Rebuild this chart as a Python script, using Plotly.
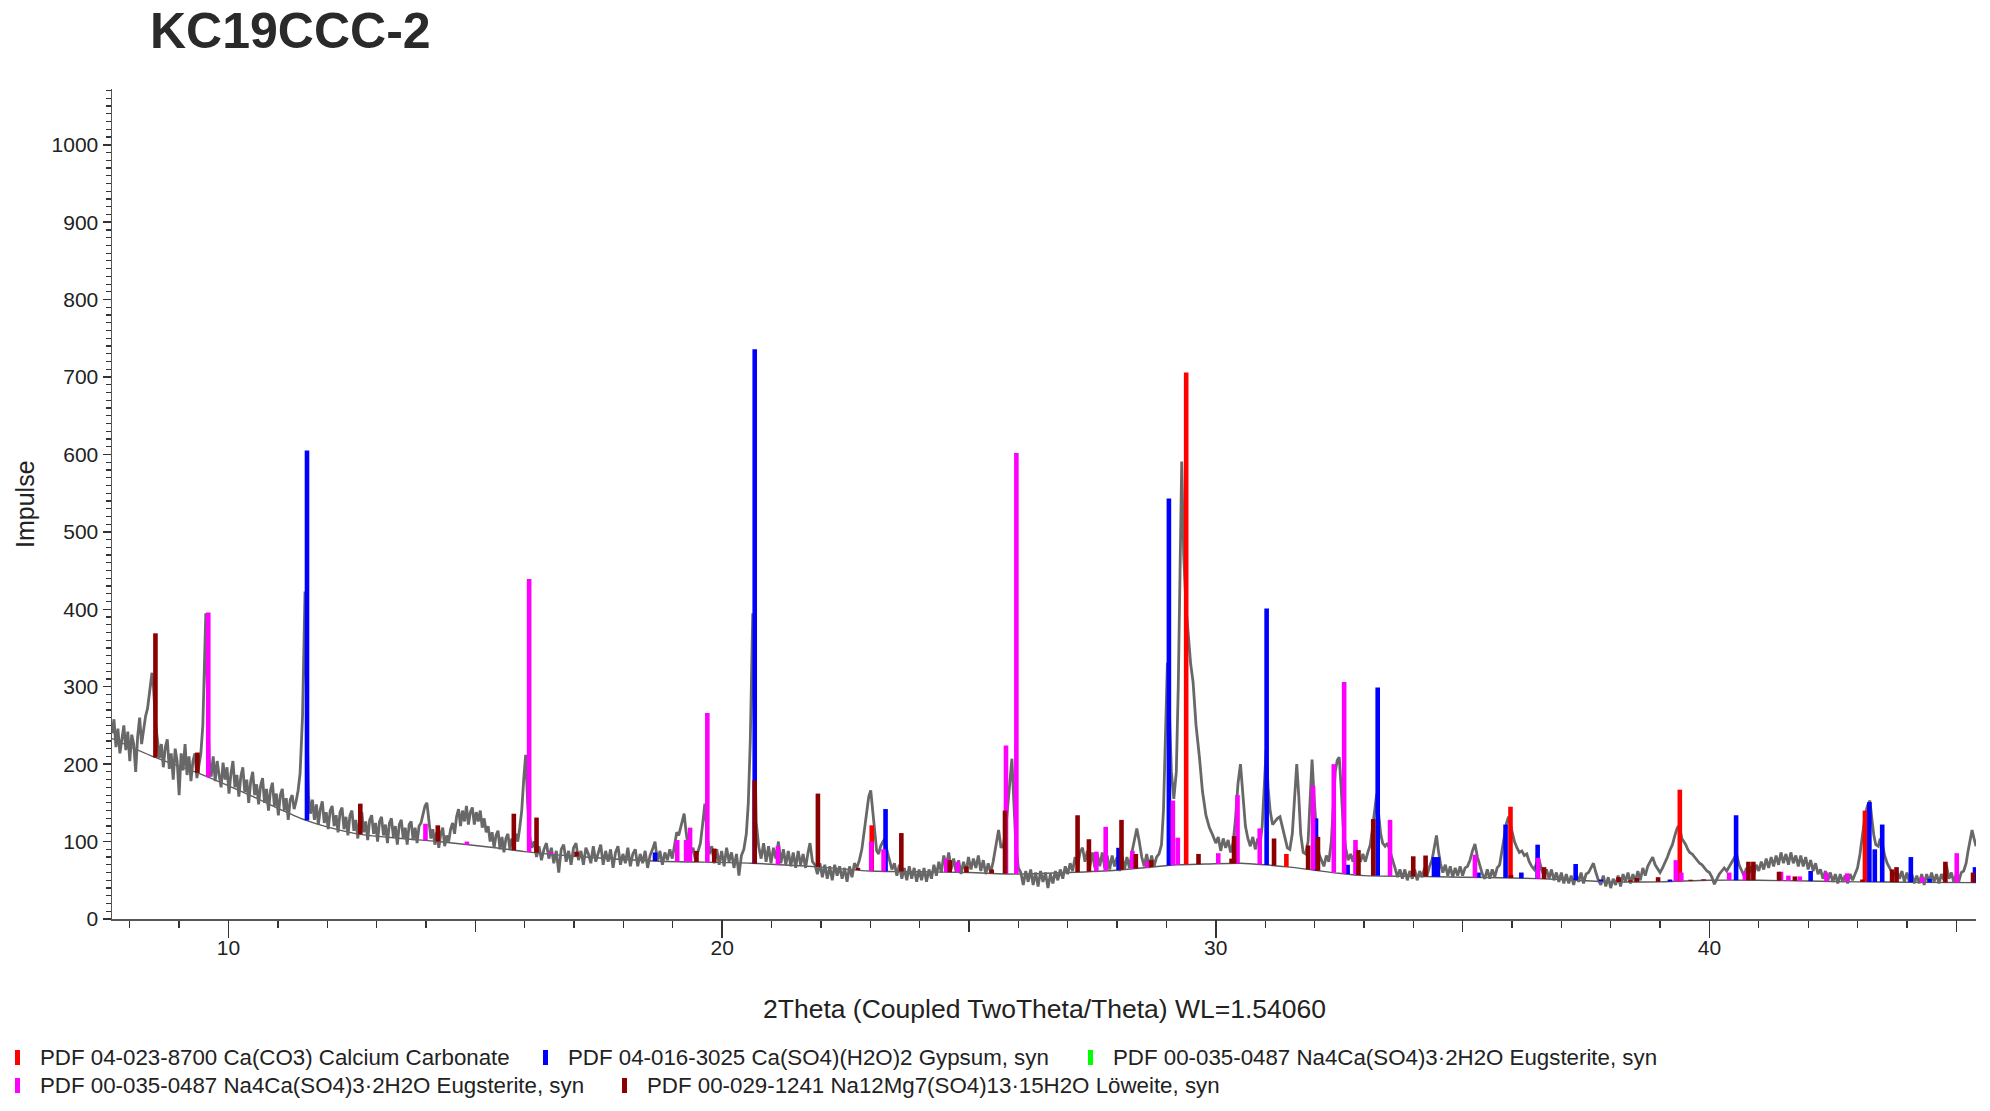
import numpy as np
import plotly.graph_objects as go

# ---------------- data ----------------
# measured scan (2theta, counts)
scan_pts = [
(7.64,240),(7.68,258),(7.72,222),(7.76,246),(7.80,214),(7.84,236),(7.88,250),(7.92,218),(7.96,242),(8.00,204),(8.04,238),(8.08,226),(8.12,190),(8.16,236),(8.20,260),(8.24,226),(8.28,248),(8.32,262),(8.36,272),(8.40,296),(8.45,318),(8.48,300),(8.52,255),(8.56,232),(8.60,208),
(8.64,226),(8.68,196),(8.72,222),(8.76,232),(8.80,194),(8.84,214),(8.88,180),(8.92,220),(8.96,204),(9.00,160),(9.04,214),(9.08,192),(9.12,226),(9.16,186),(9.20,210),(9.24,178),(9.28,204),(9.32,214),(9.36,182),(9.40,200),(9.44,214),(9.48,250),(9.51,310),(9.54,395),(9.57,300),(9.61,205),(9.65,184),
(9.69,210),(9.73,178),(9.77,204),(9.81,186),(9.85,170),(9.89,202),(9.93,180),(9.97,196),(10.01,162),(10.05,188),(10.09,204),(10.13,170),(10.17,186),(10.21,158),(10.25,184),(10.29,196),(10.33,164),(10.37,180),(10.41,150),(10.45,178),(10.49,190),(10.53,160),(10.57,174),(10.61,148),(10.65,172),(10.69,182),(10.73,150),(10.77,168),(10.81,140),(10.85,166),(10.89,176),(10.93,146),(10.97,162),(11.01,134),(11.05,160),(11.09,168),(11.13,140),(11.17,156),(11.21,128),(11.25,154),(11.29,160),(11.33,142),(11.37,152),(11.41,166),(11.45,188),(11.50,262),(11.55,423),(11.58,290),(11.62,160),(11.66,136),
(11.70,154),(11.74,128),(11.78,148),(11.82,122),(11.86,142),(11.90,152),(11.94,124),(11.98,138),(12.02,116),(12.06,140),(12.10,146),(12.14,120),(12.18,134),(12.22,112),(12.26,138),(12.30,144),(12.34,116),(12.38,132),(12.42,108),(12.46,134),(12.50,140),(12.54,114),(12.58,128),(12.62,104),(12.66,130),(12.70,138),(12.74,112),(12.78,126),(12.82,102),(12.86,128),(12.90,134),(12.94,110),(12.98,124),(13.02,100),(13.06,126),(13.10,132),(13.14,108),(13.18,122),(13.22,98),(13.26,124),(13.30,130),(13.34,106),(13.38,120),(13.42,96),(13.46,122),(13.50,128),(13.54,104),(13.58,118),(13.62,96),(13.66,122),(13.70,126),(13.74,102),(13.78,118),(13.82,98),(13.86,120),(13.90,124),(13.94,134),(13.98,146),(14.02,150),(14.06,124),(14.10,104),
(14.14,116),(14.18,96),(14.22,112),(14.26,92),(14.30,110),(14.34,118),(14.38,94),(14.42,108),(14.46,100),(14.50,116),(14.54,124),(14.58,110),(14.62,132),(14.66,142),(14.70,120),(14.74,140),(14.78,126),(14.82,146),(14.86,122),(14.90,138),(14.94,144),(14.98,122),(15.02,138),(15.06,126),(15.10,140),(15.14,118),(15.18,130),(15.22,112),
(15.26,120),(15.30,100),(15.34,112),(15.38,92),(15.42,108),(15.46,114),(15.50,90),(15.54,106),(15.58,86),(15.62,104),(15.66,110),(15.70,90),(15.74,104),(15.78,94),(15.82,110),(15.86,100),(15.90,118),(15.94,140),(15.98,180),(16.02,212),(16.06,150),(16.10,108),(16.14,92),
(16.19,100),(16.24,80),(16.29,94),(16.34,76),(16.39,90),(16.44,98),(16.49,78),(16.54,92),(16.59,72),(16.64,88),(16.69,60),(16.74,90),(16.79,96),(16.84,74),(16.89,88),(16.94,70),(16.99,92),(17.04,98),(17.09,76),(17.14,88),(17.19,70),(17.24,92),(17.29,84),(17.34,72),(17.39,94),(17.44,74),(17.49,86),(17.54,96),(17.59,70),(17.64,88),(17.69,74),(17.74,90),(17.79,66),(17.84,86),(17.89,94),(17.94,70),(17.99,84),(18.04,72),(18.09,92),(18.14,68),(18.19,84),(18.24,90),(18.29,68),(18.34,84),(18.39,72),(18.44,88),(18.49,66),(18.54,82),(18.59,90),(18.64,100),(18.69,74),(18.74,88),(18.79,70),(18.84,86),(18.89,76),(18.94,90),(18.99,78),
(19.04,100),(19.08,112),(19.12,108),(19.16,118),(19.19,124),(19.23,136),(19.27,112),(19.31,94),(19.36,84),(19.41,92),(19.46,76),(19.51,88),(19.56,98),(19.60,120),(19.65,149),(19.69,112),
(19.74,84),(19.79,94),(19.84,72),(19.89,90),(19.94,70),(19.99,88),(20.04,68),(20.09,92),(20.14,74),(20.19,86),(20.24,66),(20.29,84),(20.34,56),(20.39,82),(20.44,90),(20.49,110),(20.53,150),(20.57,230),(20.62,395),(20.65,260),(20.69,125),
(20.74,94),(20.79,78),(20.84,98),(20.89,74),(20.94,94),(20.99,72),(21.04,92),(21.09,78),(21.14,100),(21.19,72),(21.24,90),(21.29,70),(21.34,88),(21.39,68),(21.44,86),(21.49,66),(21.54,88),(21.59,70),(21.64,84),(21.69,66),(21.74,86),(21.78,98),(21.83,74),(21.88,70),(21.93,58),(21.98,72),(22.03,54),(22.08,70),(22.13,52),(22.18,68),(22.23,50),(22.28,70),(22.33,56),(22.38,68),(22.43,52),(22.48,66),(22.53,48),(22.58,68),(22.63,54),(22.68,72),(22.73,66),(22.78,76),
(22.83,90),(22.88,112),(22.93,140),(22.97,158),(23.01,166),(23.05,140),(23.09,108),(23.13,88),(23.17,84),(23.21,94),(23.26,100),(23.30,104),(23.34,88),(23.39,76),(23.44,64),(23.49,72),
(23.54,56),(23.59,70),(23.64,52),(23.69,66),(23.74,50),(23.79,68),(23.84,52),(23.89,66),(23.94,48),(23.99,64),(24.04,50),(24.09,66),(24.14,48),(24.19,64),(24.24,52),(24.29,70),(24.34,56),(24.39,74),(24.44,60),(24.49,82),(24.54,68),(24.59,86),(24.64,64),(24.69,78),(24.74,60),(24.79,76),(24.84,58),(24.89,74),(24.94,60),(24.99,80),(25.04,64),(25.09,78),(25.14,66),(25.19,82),(25.24,62),(25.29,76),(25.34,58),(25.39,72),(25.44,60),(25.49,74),
(25.54,92),(25.60,115),(25.65,92),(25.70,96),(25.75,120),(25.80,160),(25.84,195),(25.87,207),(25.91,150),(25.95,96),(26.00,66),
(26.05,60),(26.10,44),(26.15,62),(26.20,48),(26.25,64),(26.30,44),(26.35,60),(26.40,42),(26.45,62),(26.50,48),(26.55,60),(26.60,40),(26.65,58),(26.70,46),(26.75,62),(26.80,50),(26.85,64),(26.90,52),(26.95,68),
(27.00,58),(27.05,72),(27.10,62),(27.15,80),(27.20,68),(27.25,86),(27.30,92),(27.35,74),(27.40,88),(27.45,68),(27.50,86),(27.55,66),(27.60,84),(27.65,68),(27.70,86),(27.75,66),(27.80,82),(27.85,64),(27.90,82),(27.95,68),(28.00,80),(28.05,62),(28.10,82),(28.15,64),(28.20,80),(28.25,66),(28.30,86),(28.35,100),(28.40,117),(28.45,100),(28.50,80),(28.55,68),(28.60,84),(28.65,66),(28.70,82),(28.75,68),(28.80,80),(28.85,84),(28.90,96),
(28.94,140),(28.98,230),(29.02,331),(29.06,270),(29.10,190),(29.15,155),(29.20,190),(29.24,300),(29.28,470),(29.31,591),(29.35,470),(29.40,400),(29.44,370),(29.49,330),(29.54,306),(29.60,250),(29.67,208),(29.73,165),(29.80,134),(29.87,118),(29.94,108),
(30.00,98),(30.05,106),(30.10,88),(30.15,104),(30.20,92),(30.25,102),(30.30,86),(30.35,98),(30.40,130),(30.45,175),(30.50,200),(30.55,160),(30.60,120),(30.65,104),(30.70,94),(30.75,106),(30.80,90),(30.85,104),(30.90,98),(30.94,120),(30.98,170),(31.02,218),(31.06,170),(31.10,140),(31.15,122),(31.20,126),(31.25,130),(31.30,132),(31.35,118),(31.40,104),(31.45,92),(31.50,90),(31.55,110),(31.60,160),(31.64,200),(31.68,160),(31.72,110),(31.77,86),(31.82,84),(31.87,100),(31.91,150),(31.95,206),(31.99,160),(32.04,110),(32.09,84),(32.14,76),(32.19,68),(32.24,82),(32.29,74),(32.34,100),(32.38,150),(32.42,190),(32.46,205),(32.50,209),(32.54,170),(32.58,120),(32.63,92),(32.68,76),(32.73,84),(32.78,74),(32.83,92),(32.88,82),(32.93,74),(32.98,84),(33.03,74),(33.08,86),(33.13,96),(33.18,120),(33.22,145),(33.26,162),(33.30,135),(33.34,110),(33.38,98),(33.43,94),(33.48,98),(33.53,88),(33.58,76),
(33.63,66),(33.68,54),(33.73,64),(33.78,52),(33.83,64),(33.88,50),(33.93,62),(33.98,52),(34.03,64),(34.08,50),(34.13,62),(34.18,54),(34.23,66),(34.28,56),(34.33,68),(34.38,76),(34.43,96),(34.47,108),(34.51,88),(34.55,72),(34.60,60),(34.65,70),(34.70,56),(34.75,68),(34.80,54),(34.85,66),(34.90,56),(34.95,68),(35.00,56),(35.05,66),(35.10,68),(35.15,76),(35.20,88),(35.25,97),(35.30,80),(35.35,68),(35.40,58),(35.45,52),(35.50,64),(35.55,52),(35.60,64),(35.65,54),(35.70,66),(35.75,70),
(35.80,88),(35.85,110),(35.89,124),(35.93,132),(35.97,122),(36.01,110),(36.05,100),(36.10,92),(36.15,86),(36.20,88),(36.25,82),(36.30,84),(36.35,74),(36.40,68),(36.45,64),(36.50,72),(36.55,76),(36.60,64),
(36.65,56),(36.70,64),(36.75,52),(36.80,64),(36.85,50),(36.90,60),(36.95,48),(37.00,60),(37.05,46),(37.10,58),(37.15,46),(37.20,56),(37.25,44),(37.30,58),(37.35,48),(37.40,60),(37.45,46),(37.50,58),(37.55,60),(37.60,66),(37.65,72),(37.70,60),(37.75,50),(37.80,44),(37.85,56),(37.90,42),(37.95,54),(38.00,40),(38.05,52),(38.10,44),(38.15,56),(38.20,42),(38.25,58),(38.30,48),(38.35,60),(38.40,46),(38.45,58),(38.50,48),(38.55,62),(38.60,50),(38.65,66),(38.70,56),(38.75,68),(38.80,74),(38.85,80),(38.90,70),(38.95,64),(39.00,60),(39.05,66),(39.10,72),(39.15,80),
(39.20,89),(39.25,96),(39.30,108),(39.35,118),(39.39,121),(39.44,104),(39.48,100),(39.52,96),(39.56,90),(39.60,86),(39.65,84),(39.70,80),(39.75,76),(39.80,72),(39.85,70),(39.90,66),(39.95,62),(40.00,60),(40.05,54),(40.10,45),(40.15,52),(40.20,58),(40.25,62),(40.30,66),(40.35,62),(40.40,68),(40.45,72),(40.50,78),(40.55,84),(40.60,70),(40.65,62),
(40.70,56),(40.75,66),(40.80,58),(40.85,68),(40.90,58),(40.95,70),(41.00,62),(41.05,74),(41.10,64),(41.15,78),(41.20,66),(41.25,80),(41.30,68),(41.35,82),(41.40,70),(41.45,86),(41.50,72),(41.55,84),(41.60,70),(41.65,86),(41.70,72),(41.75,82),(41.80,68),(41.85,82),(41.90,68),(41.95,80),(42.00,64),(42.05,76),(42.10,62),(42.15,72),(42.20,58),(42.25,64),(42.30,52),(42.35,62),(42.40,50),(42.45,60),(42.50,48),(42.55,58),(42.60,46),(42.65,58),(42.70,48),(42.75,56),(42.80,46),(42.85,58),(42.90,50),(42.95,58),
(43.00,66),(43.05,84),(43.10,110),(43.15,132),(43.20,146),(43.25,153),(43.29,130),(43.33,108),(43.37,96),(43.42,94),(43.46,104),(43.50,98),(43.55,82),(43.60,72),(43.65,66),
(43.70,60),(43.75,58),(43.80,62),(43.85,52),(43.90,62),(43.95,48),(44.00,60),(44.05,48),(44.10,58),(44.15,46),(44.20,56),(44.25,46),(44.30,58),(44.35,44),(44.40,58),(44.45,48),(44.50,60),(44.55,48),(44.60,58),(44.65,46),(44.70,58),(44.75,50),(44.80,70),(44.85,52),(44.90,60),(44.95,48),(45.00,58),(45.05,48),(45.10,60),(45.15,62),(45.20,72),(45.24,88),(45.28,102),(45.32,115),(45.36,104),(45.40,94),
]

# fitted background curve
bg_x = [7.64, 8.5, 9.4, 10.0, 10.5, 11.0, 11.55, 12.0, 12.6, 13.5, 14.25, 15.4, 16.0, 17.0, 18.6, 20.6, 22.0, 23.0, 24.0, 25.0, 26.0, 27.0, 28.0, 28.7, 29.2, 29.8, 30.5, 31.0, 31.5, 32.0, 32.5, 33.0, 34.0, 35.0, 36.0, 37.0, 38.0, 39.0, 40.0, 41.0, 42.0, 43.0, 44.0, 45.4]
bg_y = [233, 209, 188, 172, 158, 143, 128, 119, 110, 104, 100, 92, 87, 81, 75, 72, 67, 62, 61, 60, 58, 60, 63, 67, 70, 71, 72, 70, 67, 63, 59, 56, 55, 54, 53, 51, 48, 48, 50, 50, 49, 48, 47.5, 47]

# reference sticks: position and top (counts)
calcite_x = [23.03, 29.40, 31.43, 35.97, 39.40, 43.15]
calcite_top = [121, 706, 84, 145, 167, 140]

gypsum_x = [11.59, 18.64, 20.66, 23.31, 28.03, 29.05, 31.03, 32.03, 32.67, 33.28, 34.42, 34.50, 35.32, 35.87, 36.19, 36.52, 37.29, 37.80, 39.20, 40.54, 42.05, 43.24, 43.35, 43.50, 44.08, 44.46, 45.38]
gypsum_top = [605, 86, 736, 142, 92, 543, 401, 130, 70, 299, 80, 80, 60, 122, 60, 96, 71, 51, 51, 134, 62, 151, 90, 122, 80, 52, 67]

eugst_x = [9.59, 13.99, 14.83, 16.09, 16.53, 19.09, 19.27, 19.35, 19.70, 21.13, 23.02, 23.27, 24.54, 24.77, 25.75, 25.96, 27.58, 27.77, 28.31, 28.61, 29.13, 29.23, 30.05, 30.44, 30.89, 31.97, 32.39, 32.60, 32.83, 33.53, 35.25, 36.53, 39.32, 39.43, 40.40, 40.72, 41.45, 41.60, 41.83, 42.37, 42.79, 44.31, 45.01]
eugst_top = [396, 123, 100, 439, 86, 102, 102, 118, 266, 94, 100, 90, 78, 74, 224, 602, 87, 119, 88, 74, 153, 105, 85, 160, 117, 172, 200, 306, 102, 128, 83, 79, 76, 60, 60, 61, 61, 56, 55, 60, 59, 54, 85]

loew_x = [8.52, 9.37, 12.67, 14.24, 15.78, 16.24, 17.05, 19.48, 19.84, 20.66, 21.94, 22.75, 23.63, 24.61, 24.95, 25.46, 25.73, 27.20, 27.43, 28.09, 28.38, 28.69, 29.65, 30.32, 30.37, 31.18, 31.87, 32.07, 32.89, 33.19, 34.00, 34.25, 35.98, 36.65, 38.16, 38.40, 38.53, 38.96, 39.62, 39.88, 40.79, 40.89, 41.41, 41.73, 43.10, 43.70, 43.79, 44.78, 45.34]
loew_top = [369, 215, 149, 121, 136, 131, 87, 88, 91, 179, 162, 66, 111, 76, 68, 64, 140, 134, 103, 128, 84, 76, 84, 78, 107, 104, 95, 106, 89, 129, 81, 82, 57, 67, 54, 50, 53, 54, 50, 51, 74, 74, 61, 55, 51, 64, 67, 74, 60]

legend_labels = [
    "PDF 04-023-8700 Ca(CO3) Calcium Carbonate",
    "PDF 04-016-3025 Ca(SO4)(H2O)2 Gypsum, syn",
    "PDF 00-035-0487 Na4Ca(SO4)3·2H2O Eugsterite, syn",
    "PDF 00-035-0487 Na4Ca(SO4)3·2H2O Eugsterite, syn",
    "PDF 00-029-1241 Na12Mg7(SO4)13·15H2O Löweite, syn",
]
y_tick_vals = [0, 100, 200, 300, 400, 500, 600, 700, 800, 900, 1000]
x_label_vals = [10, 20, 30, 40]
x_mid_vals = [15, 25, 35, 45]

# ---------------- styling ----------------
W, H = 1990, 1111
L, R, T, B = 112, 14, 89, 192
PW, PH = W - L - R, H - T - B
FONT = "Arial, Liberation Sans, sans-serif"
C_RED, C_BLUE, C_GREEN, C_MAG, C_DRED = "#FF0000", "#0000FF", "#00FF00", "#FF00FF", "#8B0000"
TICKC = "#333333"


def px_x(p):  # page pixel -> paper
    return (p - L) / PW


def px_y(p):
    return (H - B - p) / PH


scan_x = [p[0] for p in scan_pts]
scan_y = [p[1] for p in scan_pts]

fig = go.Figure()
fig.add_trace(go.Scatter(x=bg_x, y=bg_y, mode="lines",
                         line=dict(color="#5a5a5a", width=1.4, shape="spline", smoothing=0.8),
                         hoverinfo="skip"))
fig.add_trace(go.Scatter(x=scan_x, y=scan_y, mode="lines",
                         line=dict(color="#686868", width=2.8), hoverinfo="skip"))


def sticks(xs, tops, color):
    base = np.interp(xs, bg_x, bg_y)
    sx, sy = [], []
    for x, b, t in zip(xs, base, tops):
        sx += [x, x, None]
        sy += [float(b), float(max(t, b + 1.5)), None]
    return go.Scatter(x=sx, y=sy, mode="lines", line=dict(color=color, width=4.6),
                      hoverinfo="skip", connectgaps=False)


fig.add_trace(sticks(calcite_x, calcite_top, C_RED))
fig.add_trace(sticks(gypsum_x, gypsum_top, C_BLUE))
fig.add_trace(sticks(eugst_x, eugst_top, C_MAG))
fig.add_trace(sticks(loew_x, loew_top, C_DRED))
# helper traces so the extra tick-only x axes are drawn
for ax in ("x2", "x3"):
    fig.add_trace(go.Scatter(x=[20], y=[0], xaxis=ax, mode="markers",
                             marker=dict(opacity=0), hoverinfo="skip"))

xr = [7.64, 45.40]
fig.update_layout(
    width=W, height=H, showlegend=False, hovermode=False,
    margin=dict(l=L, r=R, t=T, b=B, pad=0),
    paper_bgcolor="white", plot_bgcolor="white",
    font=dict(family=FONT, color="#222222", size=20),
    xaxis=dict(range=xr, showgrid=False, zeroline=False, showline=True,
               linecolor="#555555", linewidth=1.5, ticks="outside",
               tickmode="array", tickvals=x_label_vals,
               ticklen=9, tickwidth=1.5, tickcolor=TICKC,
               tickfont=dict(size=21, family=FONT, color="#222222"),
               minor=dict(tickmode="linear", tick0=0, dtick=1, ticks="outside",
                          ticklen=7, tickwidth=1.3, tickcolor=TICKC, showgrid=False)),
    xaxis2=dict(range=xr, overlaying="x", anchor="y", side="bottom", showgrid=False,
                zeroline=False, showline=False, ticks="outside", tickmode="array",
                tickvals=x_label_vals, ticklen=18, tickwidth=1.5, tickcolor=TICKC,
                showticklabels=False),
    xaxis3=dict(range=xr, overlaying="x", anchor="y", side="bottom", showgrid=False,
                zeroline=False, showline=False, ticks="outside", tickmode="array",
                tickvals=x_mid_vals, ticklen=12, tickwidth=1.5, tickcolor=TICKC,
                showticklabels=False),
    yaxis=dict(range=[0, 1072], showgrid=False, zeroline=False, showline=True,
               linecolor="#555555", linewidth=1.5, ticks="outside",
               tickmode="array", tickvals=y_tick_vals,
               ticklen=8, tickwidth=1.5, tickcolor=TICKC,
               tickfont=dict(size=21, family=FONT, color="#222222"),
               minor=dict(tickmode="linear", tick0=0, dtick=10, ticks="outside",
                          ticklen=5, tickwidth=1.2, tickcolor=TICKC, showgrid=False)),
)

ann = []
ann.append(dict(text="<b>KC19CCC-2</b>", x=px_x(148), y=px_y(1), xref="paper", yref="paper",
                xanchor="left", yanchor="top", showarrow=False,
                font=dict(size=50, family=FONT, color="#2a2a2a")))
ann.append(dict(text="2Theta (Coupled TwoTheta/Theta) WL=1.54060", x=px_x(1044), y=px_y(1009),
                xref="paper", yref="paper", xanchor="center", yanchor="middle", showarrow=False,
                font=dict(size=26.5, family=FONT, color="#222222")))
ann.append(dict(text="Impulse", x=px_x(25), y=px_y(504), xref="paper", yref="paper",
                xanchor="center", yanchor="middle", showarrow=False, textangle=-90,
                font=dict(size=25, family=FONT, color="#222222")))

legend_pos = [(15, 1057), (543, 1057), (1088, 1057), (15, 1085), (622, 1085)]
legend_colors = [C_RED, C_BLUE, C_GREEN, C_MAG, C_DRED]
shapes = []
for (lx, ly), col, lab in zip(legend_pos, legend_colors, legend_labels):
    shapes.append(dict(type="rect", xref="paper", yref="paper",
                       x0=px_x(lx), x1=px_x(lx + 5), y0=px_y(ly + 8), y1=px_y(ly - 7),
                       fillcolor=col, line=dict(width=0)))
    ann.append(dict(text=lab, x=px_x(lx + 23), y=px_y(ly), xref="paper", yref="paper",
                    xanchor="left", yanchor="middle", showarrow=False,
                    font=dict(size=22.3, family=FONT, color="#222222")))

fig.update_layout(annotations=ann, shapes=shapes)
fig.write_html("out.html", config={"displayModeBar": False, "staticPlot": True},
               post_script="document.body.style.margin='0';document.body.style.overflow='hidden';")
